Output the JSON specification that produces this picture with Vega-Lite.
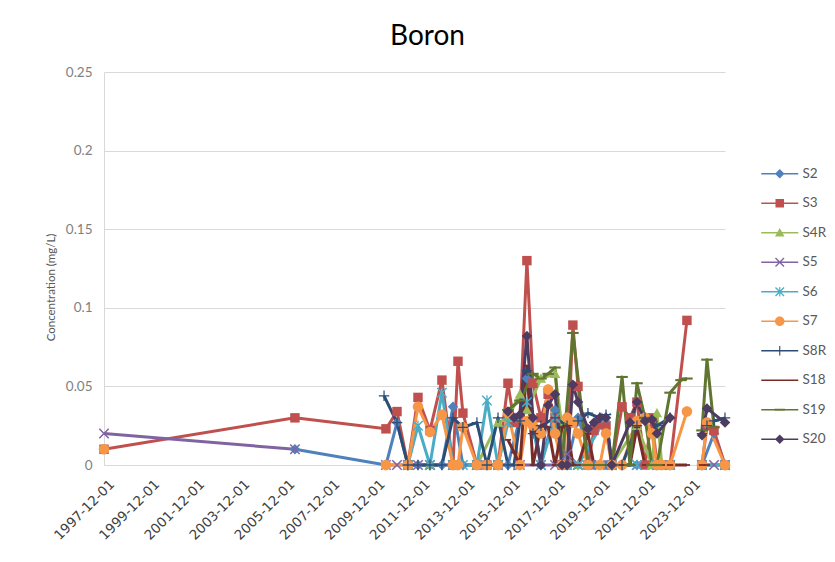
{
"$schema":"https://vega.github.io/schema/vega-lite/v6.json",
"width":621,"height":393,
"autosize":{"type":"none"},
"padding":{"left":104,"top":72,"right":110,"bottom":97},
"background":"white",
"title":{"text":"Boron","font":"Lato","fontSize":28,"fontWeight":"normal","color":"#000000","anchor":"middle","frame":"group","offset":14,"dx":13},
"config":{"view":{"stroke":null},"axis":{"labelFont":"Lato","titleFont":"Lato","labelColor":"#595959","titleColor":"#595959","gridColor":"#D9D9D9","domainColor":"#D9D9D9"}},
"resolve":{"legend":{"color":"independent"}},
"data":{"values":[
{"s":"S2","d":"2006-05-22","v":0.01},{"s":"S2","d":"2010-06-05","v":0},{"s":"S2","d":"2010-12-01","v":0.027},{"s":"S2","d":"2011-05-26","v":0},{"s":"S2","d":"2011-11-06","v":0},{"s":"S2","d":"2012-05-18","v":0},{"s":"S2","d":"2012-11-28","v":0},{"s":"S2","d":"2013-05-26","v":0.037},{"s":"S2","d":"2013-11-03","v":0},{"s":"S2","d":"2014-06-18","v":0},{"s":"S2","d":"2014-11-28","v":0},{"s":"S2","d":"2015-05-26","v":0},{"s":"S2","d":"2015-11-03","v":0},{"s":"S2","d":"2016-05-15","v":0.03},{"s":"S2","d":"2016-09-05","v":0.055},{"s":"S2","d":"2017-04-20","v":0},{"s":"S2","d":"2017-12-05","v":0.035},{"s":"S2","d":"2018-06-18","v":0},{"s":"S2","d":"2018-12-12","v":0.03},{"s":"S2","d":"2019-08-28","v":0},{"s":"S2","d":"2020-03-10","v":0},{"s":"S2","d":"2020-11-25","v":0},{"s":"S2","d":"2021-07-24","v":0},{"s":"S2","d":"2022-06-13","v":0},{"s":"S2","d":"2023-01-12","v":0},{"s":"S2","d":"2024-02-20","v":null},{"s":"S2","d":"2024-06-12","v":0},{"s":"S2","d":"2024-12-24","v":0.02},{"s":"S2","d":"2025-06-20","v":0},
{"s":"S3","d":"1997-12-01","v":0.01},{"s":"S3","d":"2006-05-22","v":0.03},{"s":"S3","d":"2010-06-05","v":0.023},{"s":"S3","d":"2010-12-01","v":0.034},{"s":"S3","d":"2011-05-26","v":0},{"s":"S3","d":"2011-11-06","v":0.043},{"s":"S3","d":"2012-05-18","v":0.022},{"s":"S3","d":"2012-11-28","v":0.054},{"s":"S3","d":"2013-05-26","v":0},{"s":"S3","d":"2013-08-15","v":0.066},{"s":"S3","d":"2013-11-03","v":0.033},{"s":"S3","d":"2014-06-18","v":0},{"s":"S3","d":"2014-11-28","v":0},{"s":"S3","d":"2015-05-26","v":0},{"s":"S3","d":"2015-11-03","v":0.052},{"s":"S3","d":"2016-02-10","v":0.027},{"s":"S3","d":"2016-05-15","v":0.03},{"s":"S3","d":"2016-09-05","v":0.13},{"s":"S3","d":"2016-12-12","v":0.052},{"s":"S3","d":"2017-04-20","v":0.03},{"s":"S3","d":"2017-08-15","v":0.045},{"s":"S3","d":"2017-12-05","v":0.03},{"s":"S3","d":"2018-03-28","v":0},{"s":"S3","d":"2018-06-18","v":0},{"s":"S3","d":"2018-09-20","v":0.089},{"s":"S3","d":"2018-12-12","v":0.05},{"s":"S3","d":"2019-05-22","v":0},{"s":"S3","d":"2019-08-28","v":0.022},{"s":"S3","d":"2019-12-01","v":0.026},{"s":"S3","d":"2020-03-10","v":0.025},{"s":"S3","d":"2020-06-12","v":0},{"s":"S3","d":"2020-11-25","v":0.037},{"s":"S3","d":"2021-04-02","v":0.03},{"s":"S3","d":"2021-07-24","v":0.04},{"s":"S3","d":"2021-12-01","v":0},{"s":"S3","d":"2022-03-25","v":0.03},{"s":"S3","d":"2022-06-13","v":0},{"s":"S3","d":"2022-09-01","v":0},{"s":"S3","d":"2023-01-12","v":0},{"s":"S3","d":"2023-10-12","v":0.092},{"s":"S3","d":"2024-02-20","v":null},{"s":"S3","d":"2024-06-12","v":0},{"s":"S3","d":"2024-09-01","v":0.025},{"s":"S3","d":"2024-12-24","v":0.022},{"s":"S3","d":"2025-06-20","v":0},
{"s":"S4R","d":"2011-05-26","v":0},{"s":"S4R","d":"2012-05-18","v":0},{"s":"S4R","d":"2013-05-26","v":0},{"s":"S4R","d":"2014-06-18","v":0},{"s":"S4R","d":"2015-05-26","v":0.027},{"s":"S4R","d":"2015-11-03","v":0.03},{"s":"S4R","d":"2016-05-15","v":0.045},{"s":"S4R","d":"2016-09-05","v":0.035},{"s":"S4R","d":"2017-04-20","v":0.055},{"s":"S4R","d":"2017-12-05","v":0.058},{"s":"S4R","d":"2018-06-18","v":0},{"s":"S4R","d":"2018-12-12","v":0},{"s":"S4R","d":"2019-12-01","v":0},{"s":"S4R","d":"2020-06-12","v":0},{"s":"S4R","d":"2021-07-24","v":0.025},{"s":"S4R","d":"2022-03-25","v":0},{"s":"S4R","d":"2022-06-13","v":0.033},{"s":"S4R","d":"2022-09-01","v":0},{"s":"S4R","d":"2023-01-12","v":0},{"s":"S4R","d":"2024-02-20","v":null},{"s":"S4R","d":"2024-06-12","v":0},{"s":"S4R","d":"2025-06-20","v":0},
{"s":"S5","d":"1997-12-01","v":0.02},{"s":"S5","d":"2006-05-22","v":0.01},{"s":"S5","d":"2008-11-01","v":null},{"s":"S5","d":"2010-06-05","v":0},{"s":"S5","d":"2010-12-01","v":0},{"s":"S5","d":"2011-05-26","v":0},{"s":"S5","d":"2011-11-06","v":0},{"s":"S5","d":"2012-05-18","v":0},{"s":"S5","d":"2013-05-26","v":0},{"s":"S5","d":"2014-06-18","v":0},{"s":"S5","d":"2015-05-26","v":0},{"s":"S5","d":"2016-05-15","v":0},{"s":"S5","d":"2017-04-20","v":0},{"s":"S5","d":"2017-12-05","v":0},{"s":"S5","d":"2018-06-18","v":0.007},{"s":"S5","d":"2018-12-12","v":0},{"s":"S5","d":"2019-12-01","v":0},{"s":"S5","d":"2020-06-12","v":0},{"s":"S5","d":"2021-07-24","v":0},{"s":"S5","d":"2022-06-13","v":0},{"s":"S5","d":"2023-01-12","v":0},{"s":"S5","d":"2024-02-20","v":null},{"s":"S5","d":"2024-06-12","v":0},{"s":"S5","d":"2024-12-24","v":0},{"s":"S5","d":"2025-06-20","v":0},
{"s":"S6","d":"2011-05-26","v":0},{"s":"S6","d":"2011-11-06","v":0.025},{"s":"S6","d":"2012-05-18","v":0},{"s":"S6","d":"2012-11-28","v":0.046},{"s":"S6","d":"2013-05-26","v":0},{"s":"S6","d":"2013-11-03","v":0},{"s":"S6","d":"2014-06-18","v":0},{"s":"S6","d":"2014-11-28","v":0.041},{"s":"S6","d":"2015-05-26","v":0},{"s":"S6","d":"2015-11-03","v":0.027},{"s":"S6","d":"2016-05-15","v":0.03},{"s":"S6","d":"2016-09-05","v":0.04},{"s":"S6","d":"2017-04-20","v":0},{"s":"S6","d":"2017-12-05","v":0.03},{"s":"S6","d":"2018-06-18","v":0},{"s":"S6","d":"2018-12-12","v":0},{"s":"S6","d":"2020-03-10","v":0.03},{"s":"S6","d":"2020-06-12","v":0},{"s":"S6","d":"2021-07-24","v":0},{"s":"S6","d":"2022-06-13","v":0},{"s":"S6","d":"2023-01-12","v":0},{"s":"S6","d":"2024-02-20","v":null},{"s":"S6","d":"2024-06-12","v":0},{"s":"S6","d":"2025-06-20","v":0},
{"s":"S7","d":"1997-12-01","v":0.01},{"s":"S7","d":"2002-03-01","v":null},{"s":"S7","d":"2010-06-05","v":0},{"s":"S7","d":"2011-05-26","v":0},{"s":"S7","d":"2011-11-06","v":0.037},{"s":"S7","d":"2012-05-18","v":0.021},{"s":"S7","d":"2012-11-28","v":0.032},{"s":"S7","d":"2013-05-26","v":0},{"s":"S7","d":"2013-08-15","v":0},{"s":"S7","d":"2013-11-03","v":0.024},{"s":"S7","d":"2014-06-18","v":0},{"s":"S7","d":"2014-11-28","v":0},{"s":"S7","d":"2015-05-26","v":0},{"s":"S7","d":"2015-11-03","v":0.033},{"s":"S7","d":"2016-05-15","v":0},{"s":"S7","d":"2016-09-05","v":0.028},{"s":"S7","d":"2016-12-12","v":0.025},{"s":"S7","d":"2017-04-20","v":0.02},{"s":"S7","d":"2017-08-15","v":0.048},{"s":"S7","d":"2017-12-05","v":0.02},{"s":"S7","d":"2018-03-28","v":0},{"s":"S7","d":"2018-06-18","v":0.03},{"s":"S7","d":"2018-09-20","v":0.027},{"s":"S7","d":"2018-12-12","v":0.02},{"s":"S7","d":"2019-05-22","v":0},{"s":"S7","d":"2019-12-01","v":0},{"s":"S7","d":"2020-03-10","v":0.02},{"s":"S7","d":"2020-06-12","v":0},{"s":"S7","d":"2020-11-25","v":0},{"s":"S7","d":"2021-07-24","v":0.028},{"s":"S7","d":"2021-12-01","v":0.03},{"s":"S7","d":"2022-03-25","v":0.02},{"s":"S7","d":"2022-06-13","v":0},{"s":"S7","d":"2022-09-01","v":0},{"s":"S7","d":"2023-01-12","v":0},{"s":"S7","d":"2023-10-12","v":0.034},{"s":"S7","d":"2024-02-20","v":null},{"s":"S7","d":"2024-06-12","v":0},{"s":"S7","d":"2024-09-01","v":0.027},{"s":"S7","d":"2025-06-20","v":0},
{"s":"S8R","d":"2010-05-05","v":0.044},{"s":"S8R","d":"2010-12-01","v":0.027},{"s":"S8R","d":"2011-05-26","v":0},{"s":"S8R","d":"2011-11-06","v":0},{"s":"S8R","d":"2012-05-18","v":0},{"s":"S8R","d":"2012-11-28","v":0},{"s":"S8R","d":"2013-05-26","v":0.03},{"s":"S8R","d":"2013-11-03","v":0.024},{"s":"S8R","d":"2014-06-18","v":0.027},{"s":"S8R","d":"2014-11-28","v":0},{"s":"S8R","d":"2015-05-26","v":0.03},{"s":"S8R","d":"2015-11-03","v":0},{"s":"S8R","d":"2016-02-10","v":0},{"s":"S8R","d":"2016-05-15","v":0.028},{"s":"S8R","d":"2016-09-05","v":0.06},{"s":"S8R","d":"2016-12-12","v":0.02},{"s":"S8R","d":"2017-04-20","v":0.025},{"s":"S8R","d":"2017-12-05","v":0.03},{"s":"S8R","d":"2018-06-18","v":0.025},{"s":"S8R","d":"2018-12-12","v":0.028},{"s":"S8R","d":"2019-05-22","v":0.033},{"s":"S8R","d":"2019-12-01","v":0.03},{"s":"S8R","d":"2020-03-10","v":0.032},{"s":"S8R","d":"2020-06-12","v":0},{"s":"S8R","d":"2020-11-25","v":0},{"s":"S8R","d":"2021-07-24","v":0.025},{"s":"S8R","d":"2021-12-01","v":0.03},{"s":"S8R","d":"2022-06-13","v":0.025},{"s":"S8R","d":"2023-01-12","v":0.03},{"s":"S8R","d":"2024-02-20","v":null},{"s":"S8R","d":"2024-06-12","v":0.02},{"s":"S8R","d":"2024-09-01","v":0.025},{"s":"S8R","d":"2024-12-24","v":0.028},{"s":"S8R","d":"2025-06-20","v":0.03},
{"s":"S18","d":"2015-11-03","v":0.016},{"s":"S18","d":"2016-02-10","v":0.008},{"s":"S18","d":"2016-05-15","v":0},{"s":"S18","d":"2016-09-05","v":0.063},{"s":"S18","d":"2016-12-12","v":0},{"s":"S18","d":"2017-04-20","v":0.025},{"s":"S18","d":"2017-08-15","v":0.024},{"s":"S18","d":"2017-12-05","v":0},{"s":"S18","d":"2018-03-28","v":0.024},{"s":"S18","d":"2018-06-18","v":0.025},{"s":"S18","d":"2018-09-20","v":0},{"s":"S18","d":"2018-12-12","v":0},{"s":"S18","d":"2019-05-22","v":0.02},{"s":"S18","d":"2019-08-28","v":0},{"s":"S18","d":"2019-12-01","v":0},{"s":"S18","d":"2020-03-10","v":0},{"s":"S18","d":"2020-06-12","v":0},{"s":"S18","d":"2020-11-25","v":0},{"s":"S18","d":"2021-04-02","v":0},{"s":"S18","d":"2021-07-24","v":0.024},{"s":"S18","d":"2021-12-01","v":0},{"s":"S18","d":"2022-06-13","v":0},{"s":"S18","d":"2022-09-01","v":0},{"s":"S18","d":"2023-01-12","v":0},{"s":"S18","d":"2023-10-12","v":0},{"s":"S18","d":"2024-02-20","v":null},{"s":"S18","d":"2024-06-12","v":0},{"s":"S18","d":"2024-09-01","v":0},
{"s":"S19","d":"2015-11-03","v":0.035},{"s":"S19","d":"2016-05-15","v":0.041},{"s":"S19","d":"2016-12-12","v":0.058},{"s":"S19","d":"2017-04-20","v":0.055},{"s":"S19","d":"2017-08-15","v":0.058},{"s":"S19","d":"2017-12-05","v":0.062},{"s":"S19","d":"2018-03-28","v":0},{"s":"S19","d":"2018-09-20","v":0.084},{"s":"S19","d":"2019-05-22","v":0},{"s":"S19","d":"2019-12-01","v":0},{"s":"S19","d":"2020-06-12","v":0},{"s":"S19","d":"2020-11-25","v":0.056},{"s":"S19","d":"2021-04-02","v":0},{"s":"S19","d":"2021-07-24","v":0.052},{"s":"S19","d":"2021-12-01","v":0.03},{"s":"S19","d":"2022-03-25","v":0},{"s":"S19","d":"2022-06-13","v":0},{"s":"S19","d":"2023-01-12","v":0.046},{"s":"S19","d":"2023-07-08","v":0.054},{"s":"S19","d":"2023-10-12","v":0.055},{"s":"S19","d":"2024-02-20","v":null},{"s":"S19","d":"2024-06-12","v":0.022},{"s":"S19","d":"2024-09-01","v":0.067},{"s":"S19","d":"2024-12-24","v":0.024},
{"s":"S20","d":"2015-11-03","v":0.034},{"s":"S20","d":"2016-02-10","v":0.03},{"s":"S20","d":"2016-05-15","v":0.032},{"s":"S20","d":"2016-09-05","v":0.082},{"s":"S20","d":"2016-12-12","v":0.03},{"s":"S20","d":"2017-04-20","v":0},{"s":"S20","d":"2017-08-15","v":0.038},{"s":"S20","d":"2017-12-05","v":0.045},{"s":"S20","d":"2018-03-28","v":0},{"s":"S20","d":"2018-06-18","v":0},{"s":"S20","d":"2018-09-20","v":0.051},{"s":"S20","d":"2018-12-12","v":0.04},{"s":"S20","d":"2019-05-22","v":0.023},{"s":"S20","d":"2019-08-28","v":0.027},{"s":"S20","d":"2019-12-01","v":0.03},{"s":"S20","d":"2020-03-10","v":0.03},{"s":"S20","d":"2020-06-12","v":0},{"s":"S20","d":"2021-04-02","v":0.027},{"s":"S20","d":"2021-07-24","v":0.04},{"s":"S20","d":"2021-12-01","v":0.028},{"s":"S20","d":"2022-03-25","v":0.029},{"s":"S20","d":"2022-06-13","v":0.02},{"s":"S20","d":"2023-01-12","v":0.03},{"s":"S20","d":"2024-02-20","v":null},{"s":"S20","d":"2024-06-12","v":0.019},{"s":"S20","d":"2024-09-01","v":0.036},{"s":"S20","d":"2025-06-20","v":0.027}
]},
"encoding":{
"x":{"field":"d","type":"temporal","scale":{"type":"utc","nice":false},"axis":{"title":null,"grid":false,"ticks":false,"labelAngle":-45,"labelFont":"DejaVu Sans","labelFontSize":13.5,"labelColor":"#404040","labelPadding":12,"labelOffset":3,"labelOverlap":false,"format":"%Y-%m-%d","values":[{"year":1997,"month":12,"date":1,"utc":true},{"year":1999,"month":12,"date":1,"utc":true},{"year":2001,"month":12,"date":1,"utc":true},{"year":2003,"month":12,"date":1,"utc":true},{"year":2005,"month":12,"date":1,"utc":true},{"year":2007,"month":12,"date":1,"utc":true},{"year":2009,"month":12,"date":1,"utc":true},{"year":2011,"month":12,"date":1,"utc":true},{"year":2013,"month":12,"date":1,"utc":true},{"year":2015,"month":12,"date":1,"utc":true},{"year":2017,"month":12,"date":1,"utc":true},{"year":2019,"month":12,"date":1,"utc":true},{"year":2021,"month":12,"date":1,"utc":true},{"year":2023,"month":12,"date":1,"utc":true}]}},
"y":{"field":"v","type":"quantitative","scale":{"domain":[0,0.25],"nice":false},"axis":{"title":"Concentration (mg/L)","titleFontSize":11.5,"titleFontWeight":"normal","titlePadding":9,"titleY":215,"labelFontSize":13.5,"labelColor":"#7F7F7F","labelPadding":12,"ticks":false,"values":[0,0.05,0.1,0.15,0.2,0.25],"format":"~g"}}
},
"layer":[
{"data":{"values":[{}]},"mark":{"type":"rule","color":"#000000","strokeWidth":2.8},"encoding":{"x":null,"y":{"datum":0.2}}},
{"mark":{"type":"line","strokeWidth":3,"strokeJoin":"round","invalid":"break-paths-filter-domains"},
 "encoding":{"color":{"field":"s","type":"nominal","legend":{"title":null,"orient":"none","legendX":669,"legendY":95,"padding":0,"symbolSize":90,"symbolStrokeWidth":0,"labelFont":"Lato","labelFontSize":13.5,"labelColor":"#595959","labelOffset":16,"rowPadding":14.5,"encode":{"symbols":{"update":{"shape":{"signal":"'M-3.9,-0.16L3.9,-0.16L3.9,0.16L-3.9,0.16Z ' + scale('shape', datum.value)"},"fill":{"scale":"color","field":"value"},"strokeWidth":{"value":0},"opacity":{"value":1}}}}},"scale":{"domain":["S2","S3","S4R","S5","S6","S7","S8R","S18","S19","S20"],"range":["#4F81BD","#C0504D","#9BBB59","#8064A2","#4BACC6","#F79646","#2C4D75","#772C2A","#5F7530","#4D3B62"]}}}},
{"mark":{"type":"point","filled":true,"opacity":1,"size":110,"strokeWidth":0,"invalid":"break-paths-filter-domains"},
 "encoding":{
  "color":{"field":"s","type":"nominal","legend":null},
  "shape":{"field":"s","type":"nominal","legend":null,"scale":{"domain":["S2","S3","S4R","S5","S6","S7","S8R","S18","S19","S20"],"range":["M0,-1L1,0L0,1L-1,0Z","M-0.9,-0.9L0.9,-0.9L0.9,0.9L-0.9,0.9Z","M0,-1L1,0.8L-1,0.8Z","M-1,-0.8L-0.8,-1L0,-0.2L0.8,-1L1,-0.8L0.2,0L1,0.8L0.8,1L0,0.2L-0.8,1L-1,0.8L-0.2,0Z","M-1,-0.8L-0.8,-1L0,-0.2L0.8,-1L1,-0.8L0.2,0L1,0.8L0.8,1L0,0.2L-0.8,1L-1,0.8L-0.2,0Z M-0.12,-1L0.12,-1L0.12,1L-0.12,1Z","M1,0A1,1,0,1,1,-1,0A1,1,0,1,1,1,0Z","M-0.12,-1L0.12,-1L0.12,-0.12L1,-0.12L1,0.12L0.12,0.12L0.12,1L-0.12,1L-0.12,0.12L-1,0.12L-1,-0.12L-0.12,-0.12Z","M-0.6,-0.17L0.6,-0.17L0.6,0.17L-0.6,0.17Z","M-1.1,-0.2L1.1,-0.2L1.1,0.2L-1.1,0.2Z","M0,-1L1,0L0,1L-1,0Z"]}}
 }}
]
}
